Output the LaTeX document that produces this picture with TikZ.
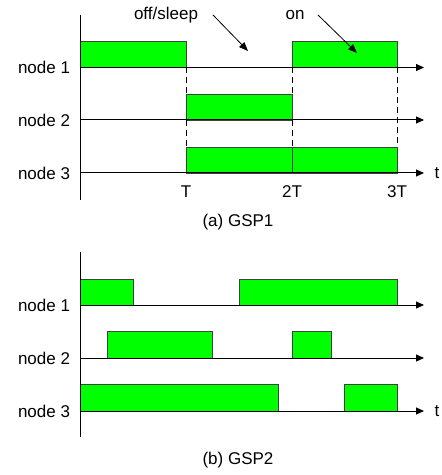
\documentclass[tikz,border=0pt]{standalone}
\usepackage{fontspec}
\setmainfont{Liberation Sans}
\usetikzlibrary{arrows.meta}
\tikzset{
  onbox/.style={draw=black!75, fill=green, line width=0.4pt},
  timeline/.style={-{Triangle[length=4pt,width=3.5pt]}, line width=0.5pt},
  pointer/.style={-{Triangle[length=4.5pt,width=3.5pt]}, line width=0.4pt},
  slotline/.style={dashed, dash pattern=on 3pt off 2pt, line width=0.4pt},
  lbl/.style={inner sep=0pt, font=\fontsize{8.5}{10}\selectfont}
}
\begin{document}
\begin{tikzpicture}[x=0.5pt,y=-0.5pt]
  \useasboundingbox (0,0) rectangle (442,475);
  % (a) GSP1
  \fill[onbox] (80,41.5) rectangle (186,67.5);
  \fill[onbox] (292,41.5) rectangle (397,67.5);
  \fill[onbox] (186,94) rectangle (292,120);
  \fill[onbox] (186,147) rectangle (292,173);
  \fill[onbox] (292,147) rectangle (397,173);
  \coordinate (atop) at (80,15);
  \coordinate (abot) at (80,200);
  \draw[line width=0.5pt] (atop) -- (abot);
  \foreach \i/\y in {1/67.5,2/120,3/173} {
    \node[lbl] (an\i) at (44,\y) {node \i};
    \coordinate (as\i) at (80,\y);
    \coordinate (ae\i) at (424,\y);
    \draw[timeline] (as\i) -- (ae\i);
  }
  \node[lbl] (at) at (437,173) {t};
  % slot boundaries
  \draw[slotline] (186,67.5) -- (186,94) (186,120) -- (186,147);
  \draw[slotline] (292,67.5) -- (292,94) (292,120) -- (292,147);
  \draw[slotline] (397,67.5) -- (397,147);
  \node[lbl] (tT) at (186,192) {T};
  \node[lbl] (t2T) at (292,192) {2T};
  \node[lbl] (t3T) at (397,192) {3T};
  \node[lbl] (sleep) at (166,15) {off/sleep};
  \node[lbl] (on) at (295,15) {on};
  \coordinate (sleeptip) at (248,51);
  \coordinate (ontip) at (357,53);
  \draw[pointer] (213,15) -- (sleeptip);
  \draw[pointer] (318,15) -- (ontip);
  \node[lbl] (capa) at (238,222) {(a) GSP1};
  % (b) GSP2
  \fill[onbox] (80,279) rectangle (133,305);
  \fill[onbox] (239,279) rectangle (397,305);
  \fill[onbox] (107,331) rectangle (212,358);
  \fill[onbox] (292,331) rectangle (331,358);
  \fill[onbox] (80,384) rectangle (278,411);
  \fill[onbox] (344,384) rectangle (397,411);
  \coordinate (btop) at (80,252);
  \coordinate (bbot) at (80,437);
  \draw[line width=0.5pt] (btop) -- (bbot);
  \foreach \i/\y in {1/305,2/358,3/411} {
    \node[lbl] (bn\i) at (44,\y) {node \i};
    \coordinate (bs\i) at (80,\y);
    \coordinate (be\i) at (424,\y);
    \draw[timeline] (bs\i) -- (be\i);
  }
  \node[lbl] (bt) at (437,411) {t};
  \node[lbl] (capb) at (238,460) {(b) GSP2};
\end{tikzpicture}
\end{document}
